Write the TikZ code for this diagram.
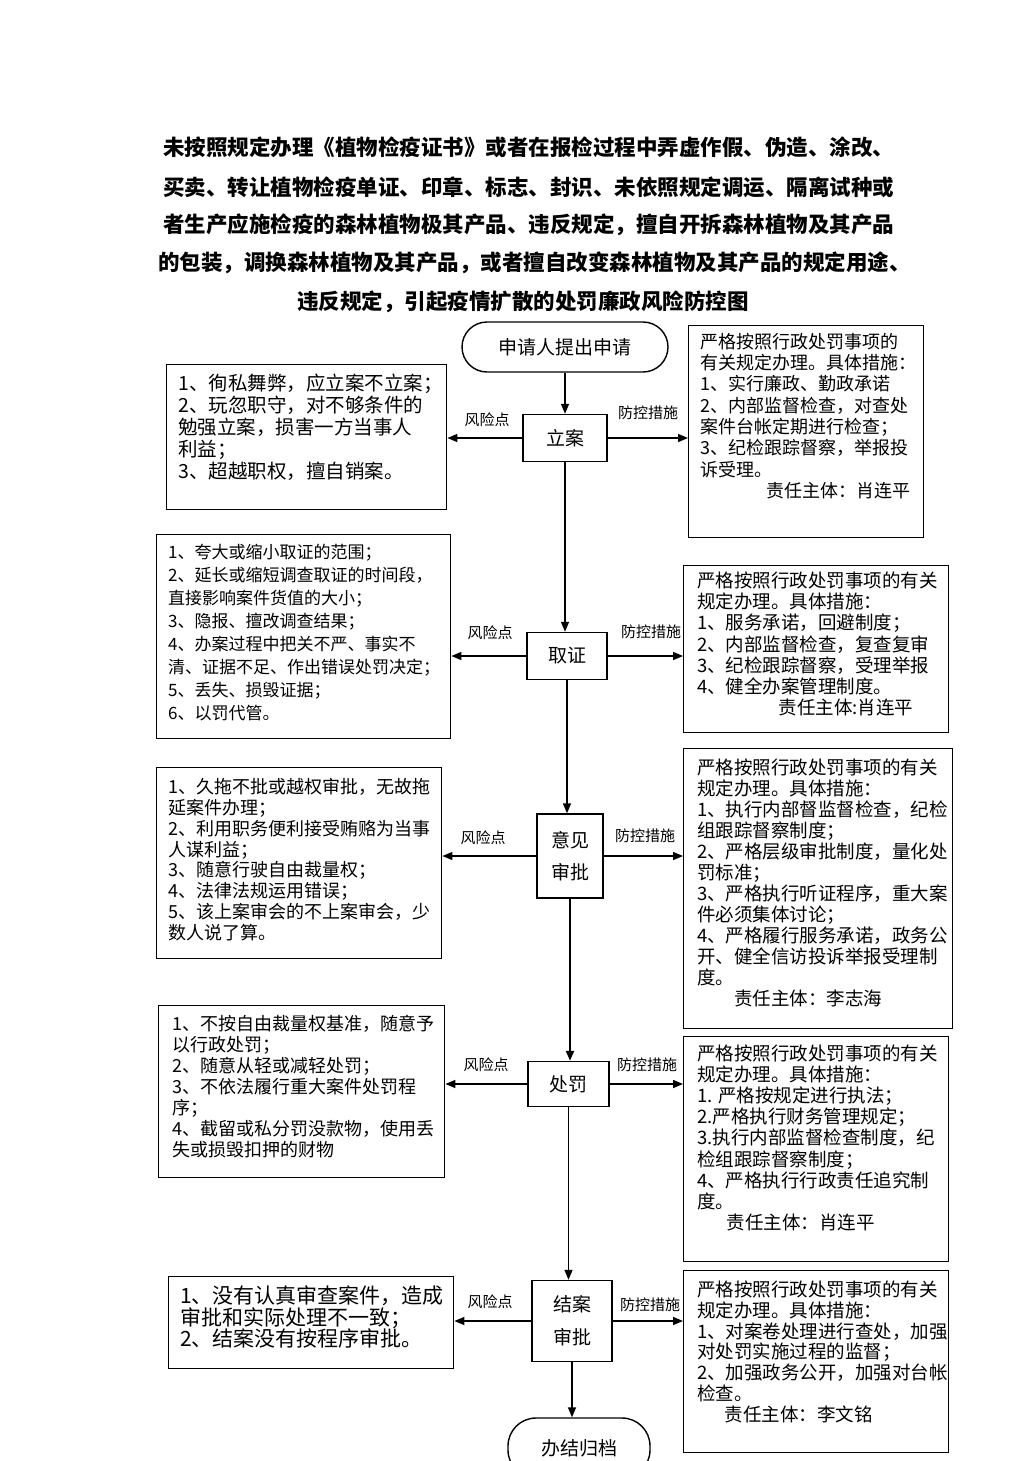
\documentclass[tikz,border=0pt]{standalone}
\usepackage{fontspec}
\setmainfont{Noto Sans CJK SC}
\usetikzlibrary{arrows.meta}
\begin{document}
\begin{tikzpicture}[x=1pt,y=-1pt,
  flow/.style={draw, line width=1.4pt, inner sep=0pt, font=\fontsize{19}{22}\selectfont, align=center},
  frame/.style={draw, line width=1.4pt, inner sep=0pt, anchor=north west},
  body/.style={inner sep=0pt, anchor=north west, align=left},
  arr/.style={line width=1.4pt, -{Triangle[length=10pt,width=8pt]}},
  lbl/.style={font=\fontsize{15}{15}\selectfont, inner sep=0pt},
  ttl/.style={font=\bfseries\fontsize{21.5}{22}\selectfont, inner sep=0pt, anchor=west}]
\clip (0,0) rectangle (1033,1461);
\fill[white] (0,0) rectangle (1033,1461);
% title
\node[ttl] (t1) at (163,147) {未按照规定办理《植物检疫证书》或者在报检过程中弄虚作假、伪造、涂改、};
\node[ttl] (t2) at (163,187) {买卖、转让植物检疫单证、印章、标志、封识、未依照规定调运、隔离试种或};
\node[ttl] (t3) at (163,225) {者生产应施检疫的森林植物极其产品、违反规定，擅自开拆森林植物及其产品};
\node[ttl] (t4) at (158,263) {的包装，调换森林植物及其产品，或者擅自改变森林植物及其产品的规定用途、};
\node[ttl, anchor=center] (t5) at (523,302) {违反规定，引起疫情扩散的处罚廉政风险防控图};
% flow nodes
\node[flow, rounded corners=25pt, minimum width=206, minimum height=50] (ST) at (565,347) {申请人提出申请};
\node[flow, minimum width=84, minimum height=47] (LA) at (565,438) {立案};
\node[flow, minimum width=80, minimum height=47] (QZ) at (567,656) {取证};
\node[flow, minimum width=66, minimum height=84, font=\fontsize{19}{32}\selectfont] (YJ) at (570,856) {意见\\审批};
\node[flow, minimum width=81, minimum height=45] (CF) at (568.5,1084) {处罚};
\node[flow, minimum width=80, minimum height=81, font=\fontsize{19}{33}\selectfont] (JA) at (572,1321) {结案\\审批};
\node[flow, rounded corners=28pt, minimum width=142, minimum height=60] (END) at (579,1448) {办结归档};
% frames
\node[frame, minimum width=280, minimum height=145] (L1) at (166,364) {};
\node[frame, minimum width=235, minimum height=212] (R1) at (688,325) {};
\node[frame, minimum width=294, minimum height=204] (L2) at (156,534) {};
\node[frame, minimum width=265, minimum height=167] (R2) at (683,565) {};
\node[frame, minimum width=285, minimum height=191] (L3) at (156,767) {};
\node[frame, minimum width=269, minimum height=280] (R3) at (683,748) {};
\node[frame, minimum width=286, minimum height=172] (L4) at (158,1005) {};
\node[frame, minimum width=265, minimum height=225] (R4) at (683,1036) {};
\node[frame, minimum width=285, minimum height=92] (L5) at (168,1276) {};
\node[frame, minimum width=265, minimum height=182] (R5) at (683,1270) {};
% texts
\node[body, font=\fontsize{19.5}{22}\selectfont] (L1t) at (178,374.2) {1、徇私舞弊，应立案不立案；\\2、玩忽职守，对不够条件的\\勉强立案，损害一方当事人\\利益；\\3、超越职权，擅自销案。};
\node[body, font=\fontsize{18}{21.3}\selectfont] (R1t) at (700,332.9) {严格按照行政处罚事项的\\有关规定办理。具体措施：\\1、实行廉政、勤政承诺\\2、内部监督检查，对查处\\案件台帐定期进行检查；\\3、纪检跟踪督察，举报投\\诉受理。\\\hspace*{3.7em}责任主体：肖连平};
\node[body, font=\fontsize{17}{23}\selectfont] (L2t) at (168,544.4) {1、夸大或缩小取证的范围；\\2、延长或缩短调查取证的时间段，\\直接影响案件货值的大小；\\3、隐报、擅改调查结果；\\4、办案过程中把关不严、事实不\\清、证据不足、作出错误处罚决定；\\5、丢失、损毁证据；\\6、以罚代管。};
\node[body, font=\fontsize{18.5}{21.2}\selectfont] (R2t) at (697,571.7) {严格按照行政处罚事项的有关\\规定办理。具体措施：\\1、服务承诺，回避制度；\\2、内部监督检查，复查复审\\3、纪检跟踪督察，受理举报\\4、健全办案管理制度。\\\hspace*{4.4em}责任主体:肖连平};
\node[body, font=\fontsize{18}{20.9}\selectfont] (L3t) at (168,777.9) {1、久拖不批或越权审批，无故拖\\延案件办理；\\2、利用职务便利接受贿赂为当事\\人谋利益；\\3、随意行驶自由裁量权；\\4、法律法规运用错误；\\5、该上案审会的不上案审会，少\\数人说了算。};
\node[body, font=\fontsize{18.5}{21}\selectfont] (R3t) at (697,758.7) {严格按照行政处罚事项的有关\\规定办理。具体措施：\\1、执行内部督监督检查，纪检\\组跟踪督察制度；\\2、严格层级审批制度，量化处\\罚标准；\\3、严格执行听证程序，重大案\\件必须集体讨论；\\4、严格履行服务承诺，政务公\\开、健全信访投诉举报受理制\\度。\\\hspace*{2em}责任主体：李志海};
\node[body, font=\fontsize{18}{21}\selectfont] (L4t) at (172,1014.9) {1、不按自由裁量权基准，随意予\\以行政处罚；\\2、随意从轻或减轻处罚；\\3、不依法履行重大案件处罚程\\序；\\4、截留或私分罚没款物，使用丢\\失或损毁扣押的财物};
\node[body, font=\fontsize{18.5}{21.1}\selectfont] (R4t) at (697,1044.7) {严格按照行政处罚事项的有关\\规定办理。具体措施：\\1. 严格按规定进行执法；\\2.严格执行财务管理规定；\\3.执行内部监督检查制度，纪\\检组跟踪督察制度；\\4、严格执行行政责任追究制\\度。\\\hspace*{1.6em}责任主体：肖连平};
\node[body, font=\fontsize{21}{21.5}\selectfont] (L5t) at (180,1285.5) {1、没有认真审查案件，造成\\审批和实际处理不一致；\\2、结案没有按程序审批。};
\node[body, font=\fontsize{18.5}{20.8}\selectfont] (R5t) at (697,1280.7) {严格按照行政处罚事项的有关\\规定办理。具体措施：\\1、对案卷处理进行查处，加强\\对处罚实施过程的监督；\\2、加强政务公开，加强对台帐\\检查。\\\hspace*{1.5em}责任主体：李文铭};
% vertical flow
\draw[arr] (ST.south) -- (LA.north);
\draw[arr] (LA.south) -- (LA.south |- QZ.north);
\draw[arr] (QZ.south) -- (QZ.south |- YJ.north);
\draw[arr, line width=2.2pt] (YJ.south) -- (YJ.south |- CF.north);
\draw[arr] (CF.south) -- (CF.south |- JA.north);
\draw[arr] (JA.south) -- (JA.south |- END.north);
% side arrows
\draw[arr] (LA.west) -- (LA.west -| L1.east);
\draw[arr] (LA.east) -- (LA.east -| R1.west);
\draw[arr] (QZ.west) -- (QZ.west -| L2.east);
\draw[arr] (QZ.east) -- (QZ.east -| R2.west);
\draw[arr] (YJ.west) -- (YJ.west -| L3.east);
\draw[arr] (YJ.east) -- (YJ.east -| R3.west);
\draw[arr] (CF.west) -- (CF.west -| L4.east);
\draw[arr] (CF.east) -- (CF.east -| R4.west);
\draw[arr] (JA.west) -- (JA.west -| L5.east);
\draw[arr] (JA.east) -- (JA.east -| R5.west);
% labels
\node[lbl] (k1) at (487,420) {风险点};
\node[lbl] (p1) at (648,413) {防控措施};
\node[lbl] (k2) at (490,633) {风险点};
\node[lbl] (p2) at (651,632) {防控措施};
\node[lbl] (k3) at (483,838) {风险点};
\node[lbl] (p3) at (645,836) {防控措施};
\node[lbl] (k4) at (486,1065) {风险点};
\node[lbl] (p4) at (647,1065) {防控措施};
\node[lbl] (k5) at (490,1302) {风险点};
\node[lbl] (p5) at (650,1305) {防控措施};
\end{tikzpicture}
\end{document}
